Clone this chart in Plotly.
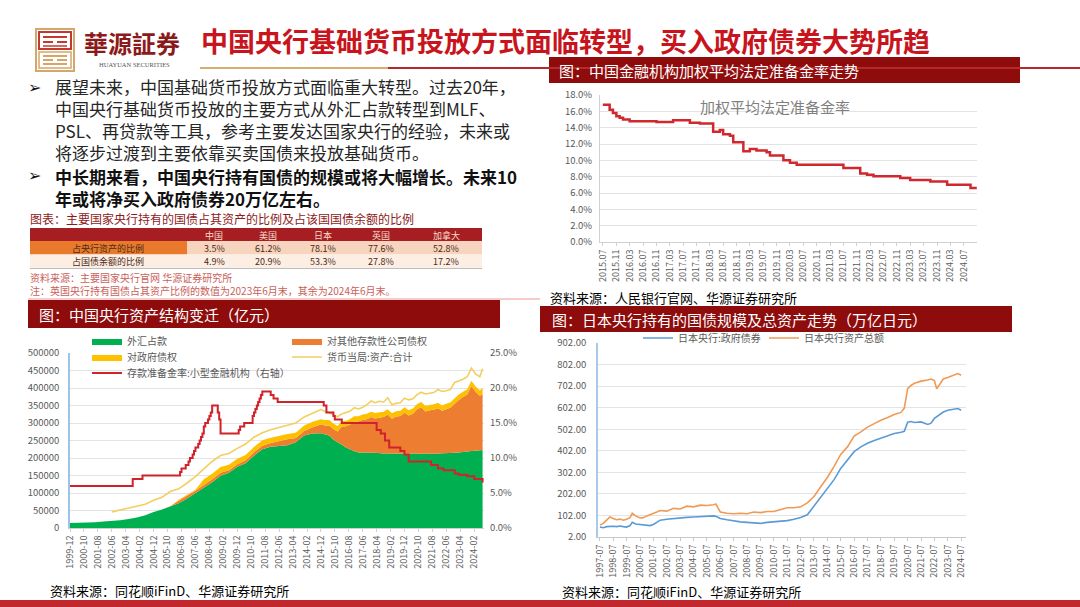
import plotly.graph_objects as go

W, H = 1080, 607
def X(p): return p / W
def Y(p): return 1 - p / H

FONT = "Noto Sans CJK SC, DejaVu Sans, sans-serif"

# ---------------- data ----------------
# Top-right: weighted average required reserve ratio (%)
wrr_dates = ["2015-07","2015-08","2015-09","2015-10","2015-11","2015-12","2016-01","2016-02","2016-03","2016-11",
             "2017-04","2017-09","2017-12","2018-04","2018-06","2018-07","2018-09","2018-10","2019-01","2019-03",
             "2019-05","2019-08","2019-09","2020-01","2020-03","2020-05","2021-07","2021-12","2022-02","2022-04",
             "2022-12","2023-03","2023-09","2024-02","2024-09","2024-10-28"]
wrr_vals = [16.8,16.8,16.2,15.8,15.4,15.2,15.0,15.0,14.8,14.7,
            14.9,14.6,14.5,13.5,13.7,13.2,13.0,12.2,11.1,11.4,
            11.2,11.0,10.6,10.0,9.7,9.45,9.05,8.4,8.25,8.05,
            7.85,7.6,7.4,7.0,6.6,6.6]

# Bottom-left: PBOC balance sheet (100 million yuan)
cn_dates = ["1999-12","2000-06","2000-12","2001-06","2001-12","2002-06","2002-12","2003-06","2003-12","2004-06",
            "2004-12","2005-06","2005-12","2006-06","2006-12","2007-06","2007-12","2008-06","2008-12","2009-06",
            "2009-12","2010-06","2010-12","2011-06","2011-12","2012-06","2012-12","2013-06","2013-12","2014-06",
            "2014-12",
            "2015-03","2015-06","2015-09","2015-12","2016-03","2016-06","2016-09","2016-12","2017-03","2017-06",
            "2017-09","2017-12","2018-03","2018-06","2018-09","2018-12","2019-03","2019-06","2019-09","2019-12",
            "2020-03","2020-06","2020-09","2020-12","2021-03","2021-06","2021-09","2021-12","2022-03","2022-06",
            "2022-09","2022-12","2023-03","2023-06","2023-09","2023-12","2024-03","2024-06","2024-08"]
cn_fx = [14061,14300,14815,16500,18850,20200,22107,25500,29842,36500,
         45940,53000,62140,71000,84361,100000,115169,131000,149624,158000,
         175155,185000,206767,225000,232389,235000,236670,245000,264270,270000,
         270681,
         267000,264000,252000,246000,238000,230000,224000,219425,216000,215000,
         215000,214788,215000,215000,213000,212557,212400,212300,212000,212317,
         211500,211300,211200,211308,211200,211300,212000,212867,213000,213500,
         214000,214712,216000,218000,219500,219800,221000,222000,222500]
cn_banks = [0,0,0,0,0,0,0,0,0,0,
            0,0,0,6500,6517,6500,7862,8000,8433,7100,
            7162,8500,9486,10000,10248,14000,16702,12000,13148,18000,
            24985,
            26000,29000,31000,30000,52000,61000,72000,84739,88000,94000,
            96000,102230,98000,101000,104000,111517,100000,106000,108000,117400,
            110000,115000,128000,133355,122000,125000,126000,129500,122000,126000,
            130000,140600,150000,156000,162000,185900,168000,156000,160000]
cn_gov = [0,0,0,0,0,0,0,0,0,0,
          0,0,0,2863,2856,2856,16318,16296,16196,15662,
          15662,15422,15422,15400,15400,15314,15314,15313,15313,15313,
          15313,
          15313,15313,15313,15313,15313,15313,15313,15274,15274,15274,
          15274,15274,15250,15250,15250,15250,15250,15250,15250,15250,
          15250,15250,15250,15250,15250,15250,15250,15250,15240,15240,
          15240,15240,15240,15240,15240,15240,15240,15240,16500]
cn_total = [None,None,None,None,None,46000,51108,56000,62004,68000,
            79322,88000,104135,112000,128575,147000,169140,190000,207096,213000,
            227535,240000,259275,272000,280978,288000,294537,300000,317279,328000,
            338249,
            333000,330000,322000,317837,326000,330000,334000,343712,340000,345000,
            352000,362932,358000,362000,360000,372249,352000,356000,358000,371000,
            366000,369000,381000,388000,383000,385000,387000,395600,390000,392000,
            396000,416000,420000,425000,432000,457000,440000,432000,455000]
cn_rrr_dates = ["1999-12","2003-09","2004-04","2006-07","2006-08","2006-11","2007-01","2007-02","2007-04","2007-05",
                "2007-06","2007-08","2007-09","2007-10","2007-11","2007-12","2008-01","2008-03","2008-04","2008-05",
                "2008-06","2008-10","2008-11","2008-12","2010-01","2010-02","2010-05","2010-11","2010-12","2011-01",
                "2011-02","2011-03","2011-04","2011-05","2011-06","2011-12","2012-02","2012-05","2015-02","2015-04",
                "2015-09","2015-10","2016-03","2018-04","2018-07","2018-10","2019-01","2019-09","2019-12","2020-03",
                "2021-07","2021-12","2022-04","2022-12","2023-03","2023-09","2024-02","2024-08"]
cn_rrr = [6.0,7.0,7.5,8.0,8.5,9.0,9.5,10.0,10.5,11.0,
          11.5,12.0,12.5,13.0,13.5,14.5,15.0,15.5,16.0,16.5,
          17.5,16.5,15.5,13.5,14.0,14.5,15.0,16.0,16.5,17.0,
          17.5,18.0,18.5,19.0,19.5,19.0,18.5,18.0,17.5,16.5,
          16.0,15.5,15.0,14.0,13.5,12.5,11.5,11.0,10.5,9.5,
          9.0,8.5,8.25,7.8,7.6,7.4,7.0,6.5]

# Bottom-right: Bank of Japan (trillion yen)
jp_dates = ["1997-07","1997-10","1998-01","1998-04","1998-07","1998-10","1999-01","1999-04","1999-07","1999-10",
            "1999-12","2000-03","2000-07","2000-10","2001-01","2001-04","2001-07","2001-10","2002-01","2002-07",
            "2003-01","2003-07","2004-01","2004-07","2005-01","2005-07","2006-01","2006-03","2006-07","2007-01",
            "2007-07","2008-01","2008-07","2009-01","2009-07","2010-01","2010-07","2011-01","2011-07","2012-01",
            "2012-07","2013-01","2013-07","2014-01","2014-07","2015-01","2015-07","2016-01","2016-07","2017-01",
            "2017-07","2018-01","2018-07","2019-01","2019-07","2020-01","2020-04","2020-07","2020-10","2021-01",
            "2021-07","2022-01","2022-04","2022-07","2022-09","2022-12","2023-03","2023-07","2024-01","2024-04",
            "2024-07"]
jp_jgb = [48,45,50,52,52,50,53,50,48,55,
          70,62,60,57,57,55,60,70,80,84,
          88,90,93,95,97,99,100,98,88,82,
          76,72,70,66,65,70,72,75,78,84,
          92,105,145,185,228,268,320,360,398,420,
          437,450,460,470,482,488,492,535,538,533,
          536,524,530,552,560,568,582,590,596,598,
          590]
jp_total = [57,65,80,95,88,82,85,80,84,92,
            112,100,90,92,100,105,112,118,125,122,
            135,132,145,142,150,148,152,155,118,112,
            110,112,110,118,115,120,120,128,138,138,
            142,160,190,235,278,330,385,420,470,490,
            512,528,544,556,570,580,600,690,705,715,
            725,730,735,728,690,712,735,742,752,760,
            752]

# Table
tbl_countries = ["中国", "美国", "日本", "英国", "加拿大"]
tbl_row_labels = ["占央行资产的比例", "占国债余额的比例"]
tbl_share_assets = [3.5, 61.2, 78.1, 77.6, 52.8]
tbl_share_debt = [4.9, 20.9, 53.3, 27.8, 17.2]

# Text block
para1 = ["展望未来，中国基础货币投放方式面临重大转型。过去20年，",
         "中国央行基础货币投放的主要方式从外汇占款转型到MLF、",
         "PSL、再贷款等工具，参考主要发达国家央行的经验，未来或",
         "将逐步过渡到主要依靠买卖国债来投放基础货币。"]
para2 = ["中长期来看，中国央行持有国债的规模或将大幅增长。未来10",
         "年或将净买入政府债券20万亿左右。"]

# ---------------- figure ----------------
fig = go.Figure()

fig.add_trace(go.Scatter(x=wrr_dates, y=wrr_vals, mode="lines", name="加权平均法定准备金率",
                         line=dict(color="#D0282E", width=2.5, shape="hv"),
                         xaxis="x", yaxis="y", showlegend=False))

fig.add_trace(go.Scatter(x=cn_dates, y=cn_fx, name="外汇占款", stackgroup="cn", mode="lines",
                         line=dict(width=0, color="#00B050"), fillcolor="#00B050",
                         xaxis="x2", yaxis="y2", legend="legend"))
fig.add_trace(go.Scatter(x=cn_dates, y=cn_banks, name="对其他存款性公司债权", stackgroup="cn", mode="lines",
                         line=dict(width=0, color="#ED7D31"), fillcolor="#ED7D31",
                         xaxis="x2", yaxis="y2", legend="legend"))
fig.add_trace(go.Scatter(x=cn_dates, y=cn_gov, name="对政府债权", stackgroup="cn", mode="lines",
                         line=dict(width=0, color="#FFC000"), fillcolor="#FFC000",
                         xaxis="x2", yaxis="y2", legend="legend2"))
fig.add_trace(go.Scatter(x=cn_dates, y=cn_total, name="货币当局:资产:合计", mode="lines",
                         line=dict(width=1.6, color="#F3CF5E"),
                         xaxis="x2", yaxis="y2", legend="legend2"))
fig.add_trace(go.Scatter(x=cn_rrr_dates, y=cn_rrr, name="存款准备金率:小型金融机构（右轴）", mode="lines",
                         line=dict(width=2, color="#D0222A", shape="hv"),
                         xaxis="x2", yaxis="y3", legend="legend3"))

fig.add_trace(go.Scatter(x=jp_dates, y=jp_jgb, name="日本央行:政府债券", mode="lines",
                         line=dict(width=1.6, color="#5B9BD5"),
                         xaxis="x4", yaxis="y4", legend="legend4"))
fig.add_trace(go.Scatter(x=jp_dates, y=jp_total, name="日本央行资产总额", mode="lines",
                         line=dict(width=1.6, color="#F09A55"),
                         xaxis="x4", yaxis="y4", legend="legend4"))

tickfont = dict(family=FONT, size=9.5, color="#595959")
xtickfont = dict(family=FONT, size=9, color="#595959")
clear = "rgba(0,0,0,0)"

fig.update_layout(
    width=W, height=H, margin=dict(l=0, r=0, t=0, b=0, autoexpand=False),
    paper_bgcolor="white", plot_bgcolor="white",
    font=dict(family=FONT),
    xaxis=dict(domain=[X(600), X(977)], anchor="y", type="date",
               range=["2015-06-05", "2024-10-30"], tick0="2015-07-01", dtick="M4",
               tickformat="%Y.%m", tickangle=-90, tickfont=xtickfont,
               showgrid=False, showline=True, linecolor="#D0D0D0", ticks="outside", ticklen=3,
               tickcolor="#D0D0D0"),
    yaxis=dict(domain=[Y(242), Y(95)], anchor="x", range=[0, 18], dtick=2, tickformat=".1f",
               ticksuffix="%", tickfont=tickfont, gridcolor="#E3E3E3", showline=True,
               linecolor="#D0D0D0", zeroline=False, ticks="outside", ticklen=5, tickcolor=clear),
    xaxis2=dict(domain=[X(70), X(484)], anchor="y2", type="date",
                range=["1999-12-01", "2024-09-01"], tick0="1999-12-01", dtick="M10",
                tickformat="%Y-%m", tickangle=-90, tickfont=xtickfont,
                showgrid=False, showline=True, linecolor="#D0D0D0", ticks="outside", ticklen=3,
                tickcolor="#D0D0D0"),
    yaxis2=dict(domain=[Y(528), Y(353)], anchor="x2", range=[0, 500000], dtick=50000, tickformat="d",
                tickfont=tickfont, gridcolor="#E3E3E3", showline=True, linecolor="#9DC3E6", linewidth=1.5,
                zeroline=False, ticks="outside", ticklen=7, tickcolor=clear),
    yaxis3=dict(overlaying="y2", side="right", anchor="x2", range=[0, 25], dtick=5, tickformat=".1f",
                ticksuffix="%", tickfont=tickfont, showgrid=False, zeroline=False, showline=False,
                ticks="outside", ticklen=3, tickcolor=clear),
    xaxis4=dict(domain=[X(598), X(966)], anchor="y4", type="date",
                range=["1997-05-10", "2024-11-10"], tick0="1997-07-01", dtick="M12",
                tickformat="%Y-%m", tickangle=-90, tickfont=xtickfont,
                showgrid=False, showline=True, linecolor="#C8C8C8", ticks="outside", ticklen=3,
                tickcolor="#C8C8C8"),
    yaxis4=dict(domain=[Y(537), Y(343)], anchor="x4", range=[2, 902], tick0=2, dtick=100,
                tickformat=".2f", tickfont=tickfont, gridcolor="#E3E3E3", showline=True,
                linecolor="#A9C9E8", linewidth=1.5, zeroline=False, ticks="outside", ticklen=8,
                tickcolor=clear),
)

legend_common = dict(orientation="h", xanchor="left", yanchor="middle", bgcolor=clear,
                     font=dict(family=FONT, size=10, color="#595959"), itemwidth=30,
                     entrywidthmode="pixels", tracegroupgap=0, borderwidth=0, traceorder="normal")
fig.update_layout(
    legend=dict(legend_common, x=X(87), y=Y(341), entrywidth=155),
    legend2=dict(legend_common, x=X(87), y=Y(357), entrywidth=155),
    legend3=dict(legend_common, x=X(87), y=Y(373), entrywidth=155),
    legend4=dict(legend_common, x=X(638), y=Y(338), entrywidth=81),
)

# ---------------- shapes ----------------
shapes = []
def rect(x0, y0, x1, y1, fill=None, line=None, lw=0):
    shapes.append(dict(type="rect", xref="paper", yref="paper", x0=X(x0), x1=X(x1), y0=Y(y1), y1=Y(y0),
                       fillcolor=fill if fill else clear,
                       line=dict(color=line if line else clear, width=lw), layer="below"))
def hline(x0, x1, y, color, w):
    shapes.append(dict(type="line", xref="paper", yref="paper", x0=X(x0), x1=X(x1), y0=Y(y), y1=Y(y),
                       line=dict(color=color, width=w)))

# logo
rect(36, 29, 74, 71, line="#D3A66A", lw=2)
rect(39, 32, 71, 49, line="#C23A2E", lw=2)
hline(43, 67, 37, "#C23A2E", 2)
hline(43, 53, 42, "#C23A2E", 2)
hline(57, 67, 42, "#C23A2E", 2)
hline(43, 67, 46, "#C23A2E", 1.5)
rect(39, 52, 71, 68, line="#D3A66A", lw=1.5)
hline(43, 67, 56, "#D3A66A", 2)
hline(43, 53, 60, "#D3A66A", 2)
hline(57, 67, 60, "#D3A66A", 2)
hline(43, 67, 64, "#D3A66A", 2)

# title underline
hline(200, 388, 68, "#D6AE72", 2.2)
hline(388, 1080, 68, "#B52A2E", 2.2)

# header boxes
rect(549, 57, 1020, 83, fill="#8E0C0C")
rect(28, 300, 500, 328, fill="#8E0C0C")
rect(540, 306, 1012, 332, fill="#8E0C0C")

# table backgrounds
col_centers = [214, 268, 323, 381, 446]
rect(30, 228, 482, 241, fill="#A61E22")
rect(30, 241, 187, 254.5, fill="#E97A2B")
rect(187, 241, 482, 254.5, fill="#F7D4BE")
rect(30, 254.5, 482, 268, fill="#FCEEE3")
hline(30, 482, 268.5, "#BDBDBD", 1)
hline(28, 540, 299, "#F2BABA", 1.5)

# bottom bar
rect(0, 600, 1080, 607, fill="#C1272D")

fig.update_layout(shapes=shapes)

# ---------------- annotations ----------------
anns = []
def ann(x, y, text, size, color, bold=False, anchor="left", family=FONT, pad=1):
    anns.append(dict(xref="paper", yref="paper", x=X(x), y=Y(y), text=text, showarrow=False,
                     xanchor=anchor, yanchor="middle", borderpad=pad, align="left",
                     font=dict(family=family, size=size, color=color, weight="bold" if bold else "normal")))

ann(82, 42, "華源証券", 24, "#8B1A1A", bold=True, family="Noto Sans CJK TC, Noto Sans CJK SC")
ann(134, 65, "HUAYUAN SECURITIES", 6.5, "#555555", anchor="center", family="Liberation Serif")
ann(199, 41, "中国央行基础货币投放方式面临转型，买入政府债券大势所趋", 27, "#C8141C", bold=True)

ann(557, 70, "图：中国金融机构加权平均法定准备金率走势", 15, "#FFFFFF")
ann(698, 107, "加权平均法定准备金率", 15, "#808080")
ann(548, 297, "资料来源：人民银行官网、华源证券研究所", 13, "#000000")

ann(27, 87, "➢", 16, "#111111", family="DejaVu Sans", pad=0)
ann(54, 120, "<br>".join(para1), 17, "#262626", pad=0)
ann(27, 176, "➢", 16, "#111111", family="DejaVu Sans", pad=0)
ann(54, 187, "<br>".join(para2), 17, "#111111", bold=True, pad=0)

# table texts
ann(29, 218.5, "图表：主要国家央行持有的国债占其资产的比例及占该国国债余额的比例", 12, "#8B1A1A", pad=0)
for cx, name, a, d in zip(col_centers, tbl_countries, tbl_share_assets, tbl_share_debt):
    ann(cx, 235, name, 9, "#F6DCCB", anchor="center", pad=0)
    ann(cx, 248, f"{a:.1f}%", 9, "#4A2A1A", anchor="center", pad=0)
    ann(cx, 261.5, f"{d:.1f}%", 9, "#4A2A1A", anchor="center", pad=0)
ann(108, 248, tbl_row_labels[0], 9, "#4A2A1A", anchor="center", pad=0)
ann(108, 261.5, tbl_row_labels[1], 9, "#4A2A1A", anchor="center", pad=0)
ann(29, 277, "资料来源：主要国家央行官网 华源证券研究所", 10, "#C9605A", pad=0)
ann(29, 290, "注：英国央行持有国债占其资产比例的数值为2023年6月末，其余为2024年6月末。", 10, "#C9605A", pad=0)

ann(37, 314, "图：中国央行资产结构变迁（亿元）", 15, "#FFFFFF")
ann(48, 590, "资料来源：同花顺iFinD、华源证券研究所", 13, "#000000")

ann(550, 319, "图：日本央行持有的国债规模及总资产走势（万亿日元）", 15, "#FFFFFF")
ann(560, 591, "资料来源：同花顺iFinD、华源证券研究所", 13, "#000000")

fig.update_layout(annotations=anns)

fig.write_html("out.html", config={"displayModeBar": False},
               post_script="document.body.style.margin='0px';document.body.style.padding='0px';"
                           "document.documentElement.style.overflow='hidden';")
